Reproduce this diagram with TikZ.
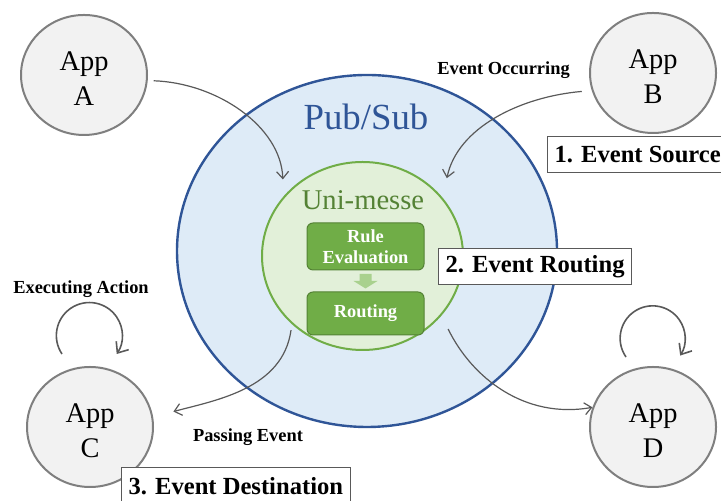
\documentclass[tikz,border=0pt]{standalone}
\usepackage{fontspec}
\setmainfont{Liberation Serif}
\usepackage{tikz}
\usetikzlibrary{arrows.meta,positioning,calc,shapes.geometric}
\definecolor{cGrayFill}{HTML}{F2F2F2}
\definecolor{cGrayLine}{HTML}{7F7F7F}
\definecolor{cArrow}{HTML}{595959}
\definecolor{cBlue}{HTML}{2F5597}
\definecolor{cBlueFill}{HTML}{DEEBF7}
\definecolor{cGreen}{HTML}{70AD47}
\definecolor{cGreenDark}{HTML}{548235}
\definecolor{cGreenFill}{HTML}{E2F0D9}
\definecolor{cGreenTip}{HTML}{A9D18E}
\tikzset{
  app/.style={ellipse,draw=cGrayLine,fill=cGrayFill,line width=1pt,minimum width=63pt,minimum height=60pt,inner sep=0pt,align=center,font=\fontsize{14.2}{17.5}\selectfont},
  stepbox/.style={draw=cGreenDark,fill=cGreen,rounded corners=3pt,line width=0.5pt,minimum width=58.5pt,align=center,text=white,font=\fontsize{9.2}{10.5}\selectfont\bfseries,inner sep=0pt},
  phase/.style={draw=cArrow,fill=white,line width=0.5pt,font=\fontsize{12.3}{14}\selectfont\bfseries,minimum height=18pt,inner xsep=3.5pt,anchor=west},
  act/.style={font=\fontsize{9.2}{11}\selectfont\bfseries},
  arr/.style={-{Straight Barb[length=3.5pt,width=6pt]},line width=0.6pt,color=cArrow},
  selfarr/.style={-{Straight Barb[length=4.5pt,width=7.5pt]},line width=0.8pt,color=cArrow},
}

\begin{document}
\begin{tikzpicture}[x=0.5pt,y=0.5pt]
  \useasboundingbox (0,0) rectangle (721,501);
  \node[ellipse,draw=cBlue,fill=cBlueFill,line width=1.2pt,minimum width=190pt,minimum height=176pt] (pubsub) at (367,250) {};
  \node[text=cBlue,font=\fontsize{18.4}{20}\selectfont] (pstitle) at (366,384) {Pub/Sub};
  \node[ellipse,draw=cGreen,fill=cGreenFill,line width=1pt,minimum width=100.5pt,minimum height=94pt] (uni) at (362.5,245) {};
  \node[text=cGreenDark,font=\fontsize{14.3}{16}\selectfont] (unititle) at (363,301) {Uni-messe};
  \node[stepbox,minimum height=23.5pt] (rule) at (365.5,254.5) {Rule\\Evaluation};
  \node[stepbox,minimum height=21.5pt,below=10.5pt of rule] (route) {Routing};
  \fill[cGreenTip] ($(rule.south)!0.5!(route.north)$) ++(-6,7) -- ++(12,0) -- ++(0,-7) -- ++(6,0)
    -- ++(-12,-7.5) -- ++(-12,7.5) -- ++(6,0) -- cycle;

  \foreach \n/\x/\y in {A/84/426,B/653/428,C/90/74,D/653/74}
    \node[app] (app\n) at (\x,\y) {\rule{0pt}{13.2pt}App\\\n};

  \node[act] (occur) at (503.5,431) {Event Occurring};
  \node[act] (exec) at (81,212) {Executing Action};
  \node[act] (pass) at (248,64) {Passing Event};

  \draw[arr,shorten <=3pt,shorten >=8.5pt] (appA.-5) to[out=-2,in=92] (uni.143);
  \draw[arr,shorten <=5pt,shorten >=10pt] (appB.196) to[out=185,in=78] (uni.36);
  \draw[arr,shorten <=3pt,shorten >=10.5pt] (uni.224) to[out=262,in=15] (appC.9);
  \draw[arr,shorten <=7.5pt] (uni.-37) to[out=-64,in=190] (appD.162);
  \draw[selfarr] ([shift={(-28,12)}]appC.north) arc[start angle=214,end angle=-34,radius=33];
  \draw[selfarr] ([shift={(-27,9)}]appD.north) arc[start angle=215,end angle=-32,radius=32.5];

  \node[phase] (src) at (547,346) {1. Event Source};
  \node[phase] (rtg) at (438,234) {2. Event Routing};
  \node[phase] (dst) at (121,15) {3. Event Destination};
\end{tikzpicture}
\end{document}
